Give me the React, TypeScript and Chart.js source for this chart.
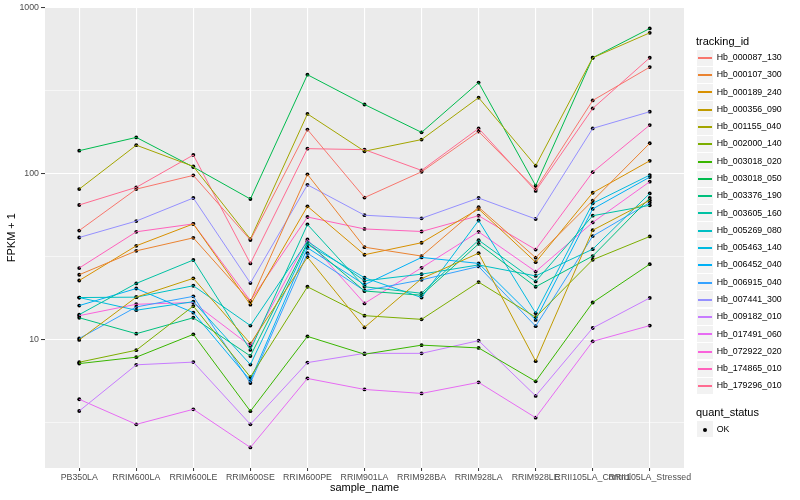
import React, { useEffect, useRef } from "react";
import { Chart, registerables } from "chart.js";

Chart.register(...registerables);

const FONT = '"Liberation Sans", Arial, Helvetica, sans-serif';

const categories = [
  "PB350LA",
  "RRIM600LA",
  "RRIM600LE",
  "RRIM600SE",
  "RRIM600PE",
  "RRIM901LA",
  "RRIM928BA",
  "RRIM928LA",
  "RRIM928LE",
  "RRII105LA_Control",
  "RRII105LA_Stressed",
];

const seriesNames = [
  "Hb_000087_130",
  "Hb_000107_300",
  "Hb_000189_240",
  "Hb_000356_090",
  "Hb_001155_040",
  "Hb_002000_140",
  "Hb_003018_020",
  "Hb_003018_050",
  "Hb_003376_190",
  "Hb_003605_160",
  "Hb_005269_080",
  "Hb_005463_140",
  "Hb_006452_040",
  "Hb_006915_040",
  "Hb_007441_300",
  "Hb_009182_010",
  "Hb_017491_060",
  "Hb_072922_020",
  "Hb_174865_010",
  "Hb_179296_010",
];

const seriesColors = [
  "#F8766D",
  "#EA8331",
  "#D89000",
  "#C09B00",
  "#A3A500",
  "#7CAE00",
  "#39B600",
  "#00BB4E",
  "#00BF7D",
  "#00C1A3",
  "#00BFC4",
  "#00BAE0",
  "#00B0F6",
  "#35A2FF",
  "#9590FF",
  "#C77CFF",
  "#E76BF3",
  "#FA62DB",
  "#FF62BC",
  "#FF6C91",
];

// FPKM + 1 values, one array per tracking_id, in category order
const hb000087_130 = [45.6, 81, 98, 40, 185, 72, 103, 180, 81, 277, 440];
const hb000107_300 = [24.7, 34.4, 41.2, 17.0, 99.4, 36.2, 32, 63, 31.3, 69, 153];
const hb000189_240 = [22.8, 36.9, 50, 16.3, 63.8, 32.6, 38.5, 61.5, 29.4, 77, 120];
const hb000356_090 = [10.0, 18.1, 23.5, 9.5, 31.5, 11.9, 23.4, 33.3, 7.45, 45.8, 69.3];
const hb001155_040 = [81, 149, 111, 40.5, 230, 137, 161, 288, 112, 501, 708];
const hb002000_140 = [7.34, 8.67, 16.0, 5.97, 20.9, 14.0, 13.3, 22.3, 13.7, 30.4, 42];
const hb003018_020 = [7.2, 7.87, 10.8, 3.72, 10.5, 8.2, 9.3, 8.95, 5.63, 16.8, 28.6];
const hb003018_050 = [138, 166, 110, 70.6, 396, 262, 178, 355, 85, 501, 752];
const hb003376_190 = [13.6, 10.9, 13.6, 8.0, 38.5, 19.7, 18.6, 37.9, 20.9, 32, 71.6];
const hb003605_160 = [14.2, 21.9, 30.3, 8.7, 49.6, 20.9, 19.1, 39.9, 22.5, 56, 64.7];
const hb005269_080 = [18.0, 18.1, 21.2, 12.2, 39.3, 22.7, 24.9, 28.3, 24.3, 35.2, 76.3];
const hb005463_140 = [18.0, 15.1, 17.0, 7.1, 37.6, 23.7, 18.0, 52.4, 14.5, 66.5, 98.4];
const hb006452_040 = [16.1, 20.4, 14.6, 5.7, 35.9, 21.5, 31.4, 28.9, 13.2, 61.5, 95.7];
const hb006915_040 = [10.2, 15.8, 18.3, 5.5, 33.3, 19.8, 23.0, 27.7, 12.1, 42.2, 67.1];
const hb007441_300 = [41.4, 52, 71.6, 22, 86, 56.4, 54, 71.6, 53.5, 188, 237];
const hb009182_010 = [3.73, 7.08, 7.35, 3.1, 7.3, 8.3, 8.3, 9.9, 4.6, 11.8, 17.9];
const hb017491_060 = [4.39, 3.1, 3.82, 2.25, 5.86, 5.03, 4.76, 5.55, 3.4, 9.8, 12.2];
const hb072922_020 = [14.0, 16.4, 16.8, 9.2, 40.3, 16.6, 27.2, 44.8, 25.8, 51, 89.8];
const hb174865_010 = [27.1, 44.8, 50, 17.2, 55, 46.6, 45, 56, 35, 102.5, 197];
const hb179296_010 = [65, 83, 130, 28.9, 142, 140, 105, 188, 79, 248, 501];

const seriesValues = [
  hb000087_130,
  hb000107_300,
  hb000189_240,
  hb000356_090,
  hb001155_040,
  hb002000_140,
  hb003018_020,
  hb003018_050,
  hb003376_190,
  hb003605_160,
  hb005269_080,
  hb005463_140,
  hb006452_040,
  hb006915_040,
  hb007441_300,
  hb009182_010,
  hb017491_060,
  hb072922_020,
  hb174865_010,
  hb179296_010,
];

const yMajorTicks = [10, 100, 1000];
const yMinorTicks = [3.1623, 31.623, 316.23];
const quantStatus = ["OK"];

const isMajor = (v: number) => yMajorTicks.some((m) => Math.abs(m - v) < 1e-6);

export default function App() {
  const ref = useRef<HTMLCanvasElement>(null);

  useEffect(() => {
    const panelBg = {
      id: "panelBg",
      beforeDraw(chart: any) {
        const { ctx, chartArea: a } = chart;
        ctx.save();
        ctx.fillStyle = "#EBEBEB";
        ctx.fillRect(a.left, a.top, a.right - a.left, a.bottom - a.top);
        ctx.restore();
      },
    };

    const datasets: any[] = seriesValues.map((vals, i) => ({
      type: "line",
      label: seriesNames[i],
      data: vals.map((v, j) => ({ x: j, y: v })),
      borderColor: seriesColors[i],
      backgroundColor: seriesColors[i],
      borderWidth: 1,
      pointRadius: 0,
      fill: false,
      tension: 0,
    }));
    datasets.push({
      type: "scatter",
      label: quantStatus[0],
      data: seriesValues.flatMap((vals) => vals.map((v, j) => ({ x: j, y: v }))),
      pointRadius: 1.9,
      pointBackgroundColor: "#000000",
      pointBorderWidth: 0,
      showLine: false,
    });

    const chart = new Chart(ref.current as HTMLCanvasElement, {
      type: "line",
      data: { datasets },
      options: {
        responsive: false,
        animation: false,
        layout: { padding: { left: 0, right: 116, top: 5, bottom: 0 } },
        plugins: { legend: { display: false }, tooltip: { enabled: false } },
        scales: {
          x: {
            type: "linear",
            min: -0.6,
            max: categories.length - 1 + 0.6,
            afterBuildTicks: (s: any) => {
              s.ticks = categories.map((_, i) => ({ value: i }));
            },
            afterFit: (s: any) => {
              s.height = 32;
            },
            ticks: {
              autoSkip: false,
              maxRotation: 0,
              minRotation: 0,
              color: "#4D4D4D",
              font: { family: FONT, size: 8.8 },
              padding: 1,
              callback: (v: any) => categories[v as number] ?? "",
            },
            grid: {
              color: "#FFFFFF",
              lineWidth: 1.1,
              tickLength: 3,
              tickColor: "#333333",
              tickWidth: 1,
            },
            border: { display: false },
            title: {
              display: true,
              text: "sample_name",
              color: "#000000",
              font: { family: FONT, size: 11 },
              padding: { top: 0, bottom: 5 },
            },
          },
          y: {
            type: "logarithmic",
            min: 1.692,
            max: 1009,
            afterBuildTicks: (s: any) => {
              s.ticks = [...yMinorTicks, ...yMajorTicks]
                .sort((a, b) => a - b)
                .map((v) => ({ value: v }));
            },
            afterFit: (s: any) => {
              s.width = 45;
            },
            ticks: {
              autoSkip: false,
              color: "#4D4D4D",
              font: { family: FONT, size: 8.8 },
              padding: 2,
              callback: (v: any) => (isMajor(Number(v)) ? String(Math.round(Number(v))) : ""),
            },
            grid: {
              color: "#FFFFFF",
              lineWidth: (c: any) => (c.tick && isMajor(c.tick.value) ? 1.1 : 0.55),
              tickLength: 4,
              tickColor: (c: any) =>
                c.tick && isMajor(c.tick.value) ? "#333333" : "rgba(0,0,0,0)",
              tickWidth: 1,
            },
            border: { display: false },
            title: {
              display: true,
              text: "FPKM + 1",
              color: "#000000",
              font: { family: FONT, size: 11 },
              padding: { top: 5, bottom: 0 },
            },
          },
        },
      } as any,
      plugins: [panelBg],
    });
    return () => chart.destroy();
  }, []);

  const keyTop0 = 57.7 - 8.64;
  const keyStep = 17.28;

  return (
    <div
      style={{
        position: "fixed",
        left: 0,
        top: 0,
        width: 800,
        height: 500,
        background: "#FFFFFF",
        fontFamily: FONT,
      }}
    >
      <canvas ref={ref} width={800} height={500} style={{ position: "absolute", left: 0, top: 0 }} />
      <div
        style={{
          position: "absolute",
          left: 696,
          top: 40.7 - 7,
          fontSize: 11,
          lineHeight: "14px",
          color: "#000",
          whiteSpace: "nowrap",
        }}
      >
        tracking_id
      </div>
      {seriesNames.map((name, i) => {
        const top = keyTop0 + i * keyStep;
        return (
          <div key={name}>
            <div
              style={{
                position: "absolute",
                left: 697,
                top: Math.round(top + 0.5),
                width: 16,
                height: 16,
                background: "#F2F2F2",
              }}
            />
            <div
              style={{
                position: "absolute",
                left: 698,
                top: Math.round(top + 7.8),
                width: 14,
                height: 1.5,
                background: seriesColors[i],
              }}
            />
            <div
              style={{
                position: "absolute",
                left: 716.7,
                top: top,
                height: keyStep,
                lineHeight: keyStep + "px",
                fontSize: 8.8,
                color: "#000",
                whiteSpace: "nowrap",
              }}
            >
              {name}
            </div>
          </div>
        );
      })}
      <div
        style={{
          position: "absolute",
          left: 696,
          top: 412.3 - 7,
          fontSize: 11,
          lineHeight: "14px",
          color: "#000",
          whiteSpace: "nowrap",
        }}
      >
        quant_status
      </div>
      {quantStatus.map((q, i) => {
        const top = 429.6 - 8.64 + i * keyStep;
        return (
          <div key={q}>
            <div
              style={{
                position: "absolute",
                left: 697,
                top: Math.round(top + 0.5),
                width: 16,
                height: 16,
                background: "#F2F2F2",
              }}
            />
            <div
              style={{
                position: "absolute",
                left: 703,
                top: Math.round(top + 6.8),
                width: 4,
                height: 4,
                borderRadius: "50%",
                background: "#000",
              }}
            />
            <div
              style={{
                position: "absolute",
                left: 716.7,
                top: top,
                height: keyStep,
                lineHeight: keyStep + "px",
                fontSize: 8.8,
                color: "#000",
                whiteSpace: "nowrap",
              }}
            >
              {q}
            </div>
          </div>
        );
      })}
    </div>
  );
}
